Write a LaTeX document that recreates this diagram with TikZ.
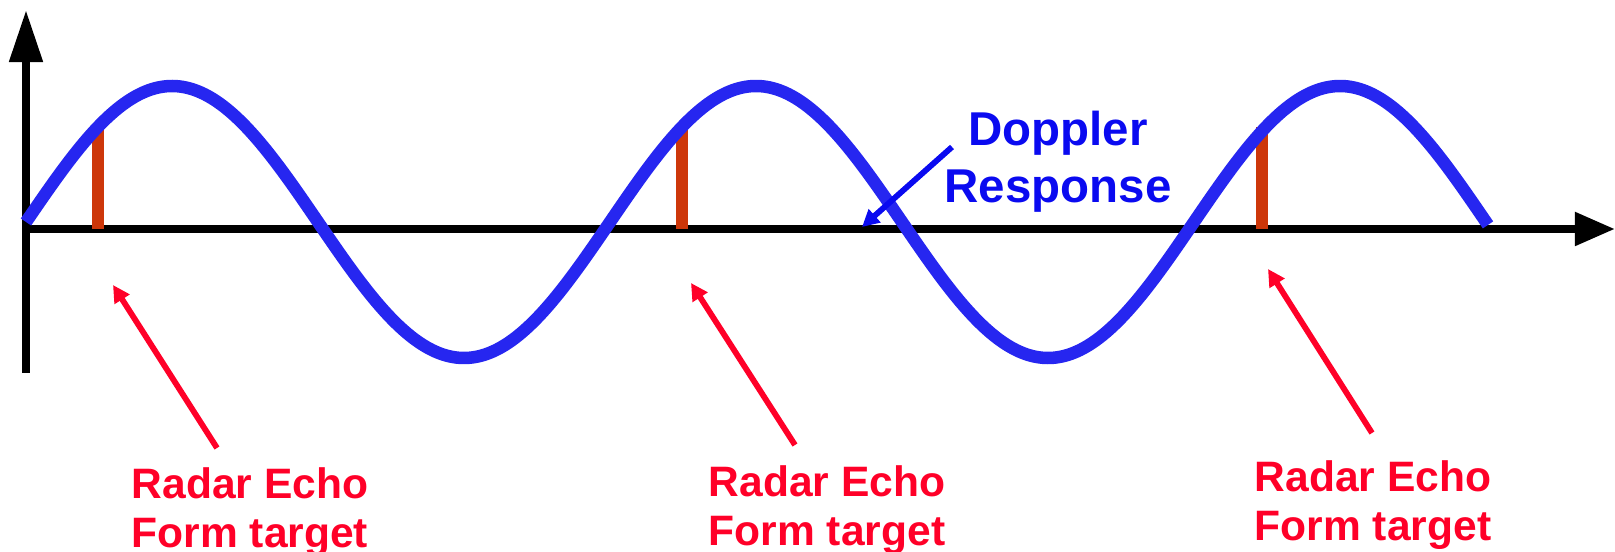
\documentclass[tikz,border=0pt]{standalone}
\usepackage{fontspec}
\setmainfont{Liberation Sans}
\usetikzlibrary{arrows.meta}
\definecolor{wavecol}{RGB}{38,38,240}
\definecolor{echocol}{RGB}{205,55,10}
\definecolor{notecol}{RGB}{255,0,40}
\definecolor{dopcol}{RGB}{10,10,240}
\begin{document}
\begin{tikzpicture}[x=0.01cm,y=-0.01cm,
  axisline/.style={line width=0.08cm},
  echobar/.style={echocol, line width=0.12cm},
  wavecurve/.style={wavecol, line width=0.125cm},
  redpointer/.style={notecol, line width=0.058cm, -{Triangle[length=0.17cm,width=0.17cm]}},
  bluepointer/.style={dopcol, line width=0.058cm, -{Triangle[length=0.17cm,width=0.17cm]}},
  echolabel/.style={notecol, font=\bfseries\fontsize{12.1}{13.8}\selectfont, align=center, inner sep=0pt},
  doplabel/.style={dopcol, font=\bfseries\fontsize{13.5}{16.2}\selectfont, align=center, inner sep=0pt},
]
\useasboundingbox (0,0) rectangle (1615,552);

% axes
\coordinate (ybot) at (26,373);
\coordinate (ytop) at (26,10);
\coordinate (xleft) at (22,229);
\coordinate (xright) at (1615,229);
\draw[axisline, -{Triangle[length=0.52cm,width=0.32cm]}] (ybot) -- (ytop);
\draw[axisline, -{Triangle[length=0.40cm,width=0.32cm]}] (xleft) -- (xright);

% radar echo samples
\draw[echobar] (98,229) -- (98,126);
\draw[echobar] (682,229) -- (682,127);
\draw[echobar] (1262,229) -- (1262,127);

% Doppler waveform: 2.5 periods of 584 units
\draw[wavecurve] plot[domain=26:1488, samples=300, smooth] (\x,{222-136*sin((\x-26)/584*360)});

% Doppler label
\node[doplabel] (doppler) at (1058,162) {Doppler\\Response};
\coordinate (dfrom) at (952,147);
\coordinate (dto) at (862,227);
\draw[bluepointer] (dfrom) -- (dto);

% echo labels
\node[echolabel] (echo1) at (250,512) {Radar Echo\\Form target};
\node[echolabel] (echo2) at (827,510) {Radar Echo\\Form target};
\node[echolabel] (echo3) at (1373,505) {Radar Echo\\Form target};

\coordinate (e1from) at (217,448);
\coordinate (e1to) at (113,285);
\coordinate (e2from) at (795,445);
\coordinate (e2to) at (691,283);
\coordinate (e3from) at (1372,433);
\coordinate (e3to) at (1268,269);
\draw[redpointer] (e1from) -- (e1to);
\draw[redpointer] (e2from) -- (e2to);
\draw[redpointer] (e3from) -- (e3to);
\end{tikzpicture}
\end{document}
